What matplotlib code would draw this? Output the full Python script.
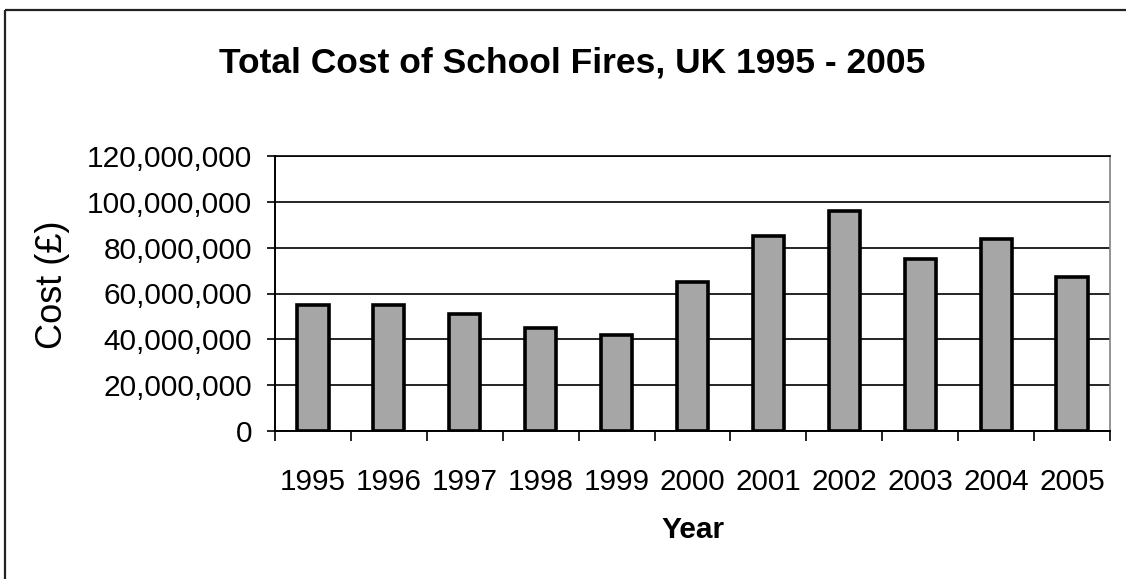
import matplotlib
matplotlib.use("Agg")
import matplotlib.pyplot as plt
from matplotlib.lines import Line2D
from matplotlib.ticker import FuncFormatter, MultipleLocator, FixedLocator

years = ["1995", "1996", "1997", "1998", "1999", "2000",
         "2001", "2002", "2003", "2004", "2005"]
costs = [55e6, 55e6, 51e6, 45e6, 42e6, 65e6, 85e6, 96e6, 75e6, 84e6, 67e6]

plt.rcParams["font.family"] = ["Liberation Sans", "DejaVu Sans"]

W, H = 1126, 579
fig = plt.figure(figsize=(W / 100, H / 100), dpi=100)
fig.patch.set_facecolor("white")

# chart-area frame (left and top edges)
fx, fy = 5 / W, 1 - 10 / H
fig.add_artist(Line2D([fx, fx], [0.0, fy], transform=fig.transFigure,
                      color="#222222", linewidth=1.6, solid_capstyle="butt"))
fig.add_artist(Line2D([fx, 1.0], [fy, fy], transform=fig.transFigure,
                      color="#222222", linewidth=1.6, solid_capstyle="butt"))

ax = fig.add_axes([275 / W, (H - 431) / H, (1110 - 275) / W, (431 - 156) / H])

x = list(range(len(years)))
ax.bar(x, costs, width=0.41, color="#a6a6a6", edgecolor="black",
       linewidth=2.6, zorder=3)

ax.set_xlim(-0.5, len(years) - 0.5)
ax.set_ylim(0, 120e6)
ax.yaxis.set_major_locator(MultipleLocator(20e6))
ax.yaxis.set_major_formatter(FuncFormatter(lambda v, p: f"{int(v):,}"))
ax.grid(axis="y", color="black", linewidth=1.2, zorder=1)

ax.set_xticks(x)
ax.set_xticklabels(years)
ax.xaxis.set_minor_locator(FixedLocator([i - 0.5 for i in range(len(years) + 1)]))
ax.tick_params(axis="x", which="major", length=0, pad=27, labelsize=21.3)
ax.tick_params(axis="x", which="minor", length=7, width=1.2, direction="out")
ax.tick_params(axis="y", length=6, width=1.2, direction="out", pad=10.5,
               labelsize=21.5)

for side in ("left", "bottom"):
    ax.spines[side].set_linewidth(1.4)
    ax.spines[side].set_color("black")
ax.spines["top"].set_linewidth(1.2)
ax.spines["right"].set_color("#808080")
ax.spines["right"].set_linewidth(1.2)

fig.text(0.5 * (218 + 927) / W, 1 - 73 / H,
         "Total Cost of School Fires, UK 1995 - 2005",
         ha="center", va="baseline", fontsize=25.5, fontweight="bold")
fig.text(693 / W, 1 - 538 / H, "Year", ha="center", va="baseline",
         fontsize=21.5, fontweight="bold")
fig.text(52 / W, 1 - 285 / H, "Cost (£)", ha="center", va="center",
         rotation=90, fontsize=26)

fig.savefig("out.png", dpi=100, facecolor="white")
